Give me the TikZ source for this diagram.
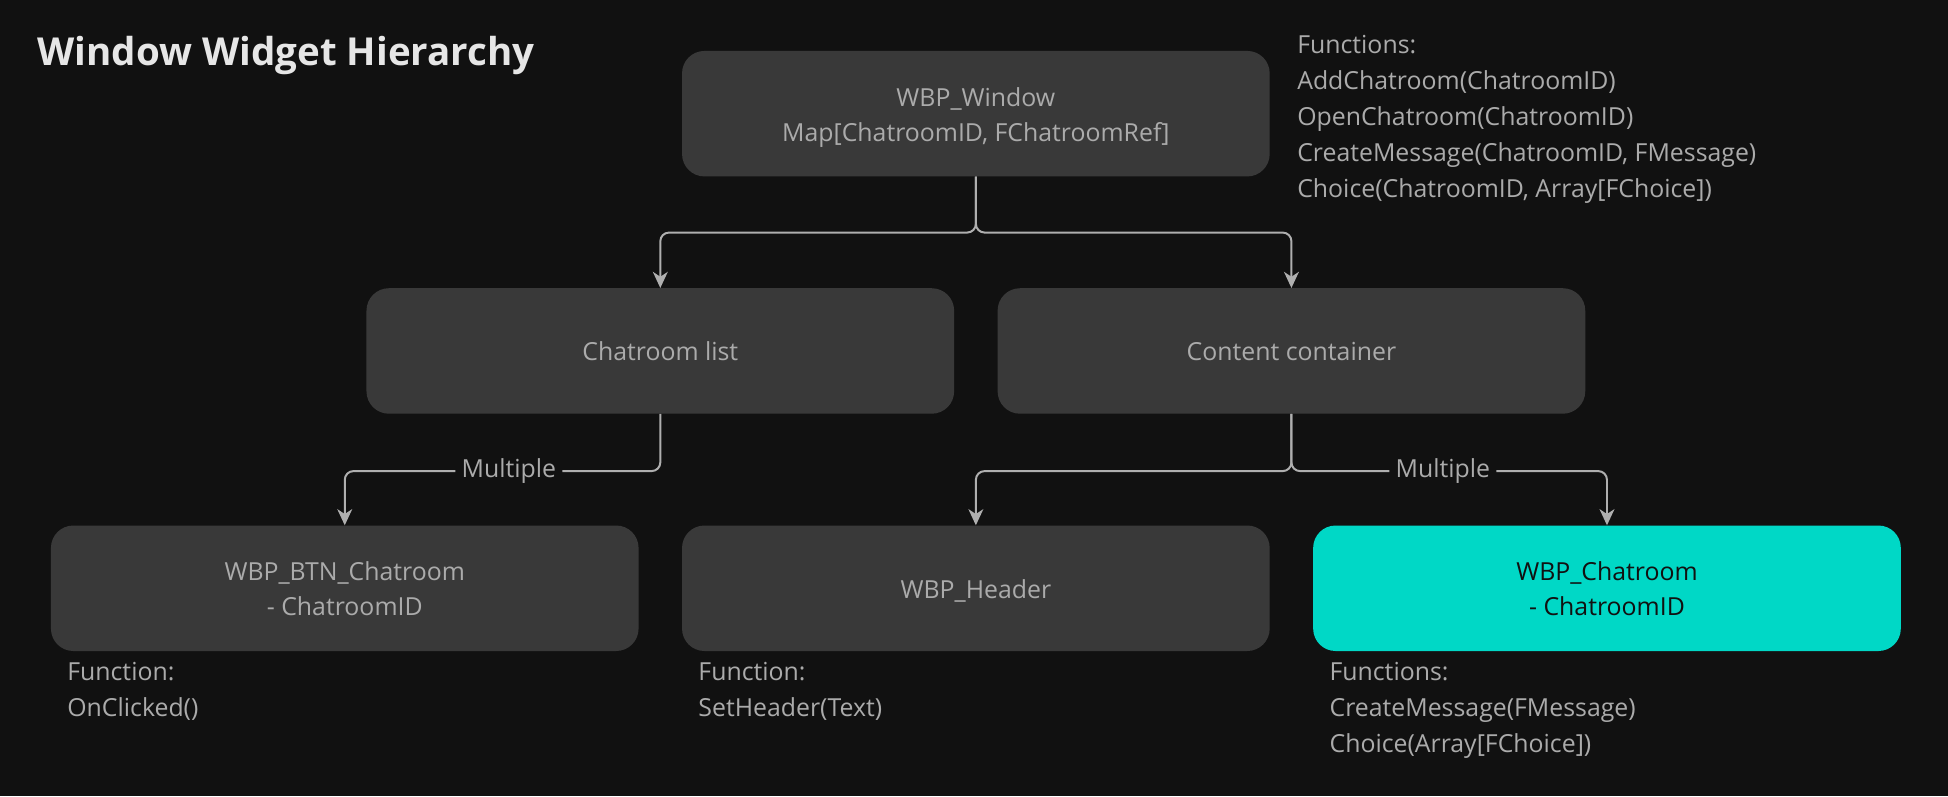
\documentclass[tikz,border=0pt]{standalone}
\usepackage{fontspec}
\setmainfont{Open Sans}
\usepackage{tikz}
\usetikzlibrary{arrows.meta}
\usetikzlibrary{positioning}
\definecolor{bg}{HTML}{111111}
\definecolor{boxgray}{HTML}{393939}
\definecolor{txtgray}{HTML}{ABABAB}
\definecolor{linegray}{HTML}{AFAFAF}
\definecolor{titlewhite}{HTML}{E6E6E6}
\definecolor{roomcyan}{HTML}{00D8C6}
% one strut per line, so every box text sits at the same height
\newcommand\lnst{\rule[-6pt]{0pt}{28pt}}
\begin{document}
\begin{tikzpicture}[x=1pt,y=-1pt,node distance=508pt,
  box/.style={fill=boxgray,rounded corners=18pt,minimum width=473pt,minimum height=101pt,align=center,text=txtgray,font=\fontsize{20}{28}\selectfont},
  note/.style={align=left,inner sep=0pt,anchor=west,text=txtgray,font=\fontsize{20}{29}\selectfont},
  conn/.style={draw=linegray,line width=1.6pt,rounded corners=7pt,-{Stealth[length=13pt,width=12pt,inset=4pt]}},
  lbl/.style={fill=bg,inner sep=5pt,text=txtgray,font=\fontsize{20}{24}\selectfont}]
\fill[bg] (0,0) rectangle (1568,641);
\node[anchor=west,inner sep=0pt,text=titlewhite,font=\fontsize{31}{36}\selectfont\bfseries] (title) at (30,45) {Window Widget Hierarchy};
  \node[box] (win) at (785.5,91.5) {\lnst WBP\_Window\\\lnst Map[ChatroomID, FChatroomRef]};
  \node[box] (list) at (531.5,282.5) {\lnst Chatroom list};
  \node[box,right of=list] (cont) {\lnst Content container};
  \node[box] (btn) at (277.5,473.5) {\lnst WBP\_BTN\_Chatroom\\\lnst - ChatroomID};
  \node[box,right of=btn] (head) {\lnst WBP\_Header};
  \node[box,right of=head,fill=roomcyan,text=bg] (room) {\lnst WBP\_Chatroom\\\lnst - ChatroomID};
\node[note] (winfn) at (1044,96) {Functions:\\AddChatroom(ChatroomID)\\OpenChatroom(ChatroomID)\\CreateMessage(ChatroomID, FMessage)\\Choice(ChatroomID, Array[FChoice])};
\node[note] (btnfn) at (54,556.5) {Function:\\OnClicked()};
\node[note] (headfn) at (562,556.5) {Function:\\SetHeader(Text)};
\node[note] (roomfn) at (1070,572) {Functions:\\CreateMessage(FMessage)\\Choice(Array[FChoice])};
  \draw[conn](win.south) -- ++(0,45) -| (list.north);
  \draw[conn](win.south) -- ++(0,45) -| (cont.north);
  \draw[conn](list.south) -- ++(0,46) -| node[lbl,pos=0.24]{Multiple} (btn.north);
  \draw[conn](cont.south) -- ++(0,46) -| (head.north);
  \draw[conn](cont.south) -- ++(0,46) -| node[lbl,pos=0.24]{Multiple} (room.north);
  \end{tikzpicture}
\end{document}
